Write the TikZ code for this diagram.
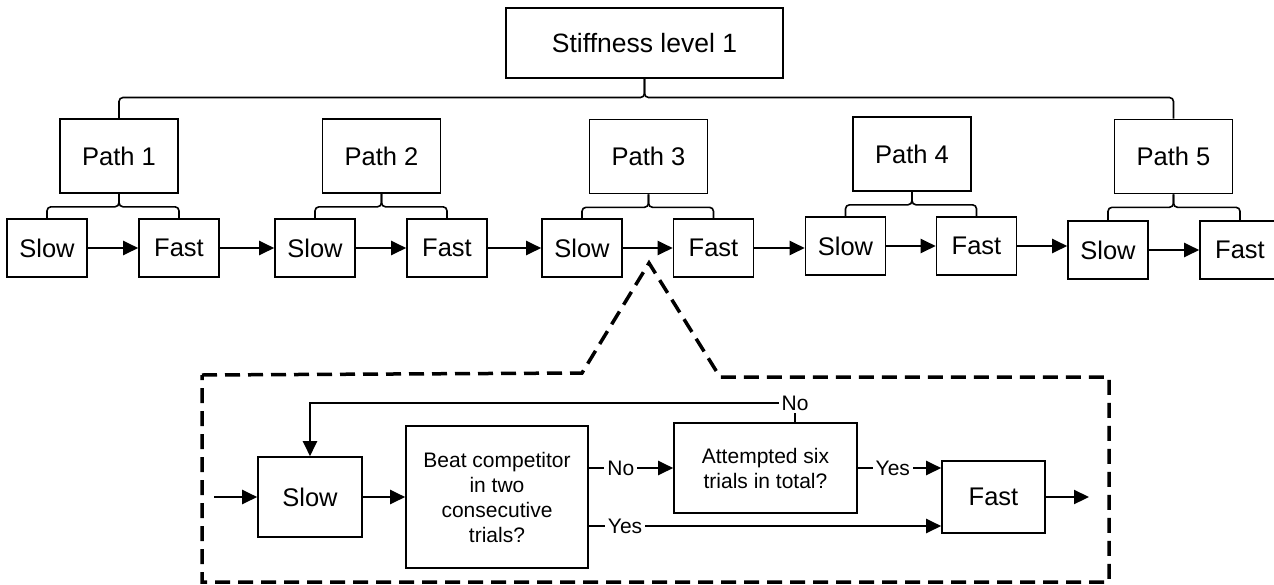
\documentclass[tikz,border=0pt]{standalone}
\usepackage{fontspec}
\setmainfont{Liberation Sans}
\usetikzlibrary{arrows.meta}
\begin{document}
\begin{tikzpicture}[x=1pt,y=-1pt,
  box/.style={draw, line width=1.6pt, inner sep=0pt, align=center, font=\fontsize{25.5}{30}\selectfont},
  pbox/.style={box, minimum width=118pt, minimum height=74pt},
  rbox/.style={box, minimum width=80pt, minimum height=58pt},
  qbox/.style={box, font=\fontsize{21}{25}\selectfont},
  arr/.style={-{Triangle[length=15pt,width=14pt]}, line width=2.2pt},
  brace/.style={line width=1.6pt, rounded corners=4pt},
  lab/.style={fill=white, inner sep=3pt, font=\fontsize{21}{24}\selectfont},
  dashbox/.style={line width=3.5pt, dash pattern=on 15pt off 8pt, line join=miter}]
\useasboundingbox (0,0) rectangle (1274,584);
\clip (0,0) rectangle (1274,584);

% top level
\node[box, minimum width=277pt, minimum height=70pt, font=\fontsize{26.5}{30}\selectfont] (top) at (644.5,43) {Stiffness level 1};
\node[pbox] (p1) at (119,156) {Path 1};
\node[pbox] (p2) at (381.5,156) {Path 2};
\node[pbox] (p3) at (648.5,156.5) {Path 3};
\node[pbox] (p4) at (912,154) {Path 4};
\node[pbox] (p5) at (1173.5,156.5) {Path 5};

\node[rbox] (s1) at (47,248) {Slow};
\node[rbox] (f1) at (179,248) {Fast};
\node[rbox] (s2) at (315,248) {Slow};
\node[rbox] (f2) at (447,248) {Fast};
\node[rbox] (s3) at (582,248) {Slow};
\node[rbox] (f3) at (713.5,248) {Fast};
\node[rbox] (s4) at (845.5,246) {Slow};
\node[rbox] (f4) at (976.5,246) {Fast};
\node[rbox] (s5) at (1108,250) {Slow};
\node[rbox] (f5) at (1240,250) {Fast};

% top brace
\coordinate (tb) at (644.5,97.5);
\draw[brace] (p1.north) |- (tb) -- (top.south);
\draw[brace] (p5.north) |- (tb) -- (top.south);

% sub braces
\foreach \p/\s/\f in {p1/s1/f1, p2/s2/f2, p3/s3/f3, p4/s4/f4, p5/s5/f5}{
  \draw[brace] (\s.north) |- ([yshift=-13pt]\p.south) -- (\p.south);
  \draw[brace] (\f.north) |- ([yshift=-13pt]\p.south) -- (\p.south);
}

% row arrows
\draw[arr] (s1.east) -- (s1.east -| f1.west);
\draw[arr] (f1.east) -- (f1.east -| s2.west);
\draw[arr] (s2.east) -- (s2.east -| f2.west);
\draw[arr] (f2.east) -- (f2.east -| s3.west);
\draw[arr] (s3.east) -- (s3.east -| f3.west);
\draw[arr] (f3.east) -- (f3.east -| s4.west);
\draw[arr] (s4.east) -- (s4.east -| f4.west);
\draw[arr] (f4.east) -- (f4.east -| s5.west);
\draw[arr] (s5.east) -- (s5.east -| f5.west);

% dashed zoom outline
\draw[dashbox] (202,375) -- (582,373) -- (649,263) -- (720,377) -- (1109,377) -- (1109,582) -- (202,582) -- cycle;

% inner flow
\node[box, minimum width=104pt, minimum height=80pt] (is) at (310,497) {Slow};
\node[qbox, minimum width=182pt, minimum height=142pt] (beat) at (497,497) {Beat competitor\\in two\\consecutive\\trials?};
\node[qbox, minimum width=183pt, minimum height=90pt] (att) at (765.5,468) {Attempted six\\trials in total?};
\node[box, minimum width=103pt, minimum height=72pt] (ifast) at (993.5,497) {Fast};

\coordinate (in) at (214,497);
\coordinate (out) at (1089,497);
\coordinate (ya) at (588,526);
\coordinate (nc) at (795,403);

\draw[arr] (in) -- (is);
\draw[arr] (is) -- (beat);
\draw[arr] (ifast) -- (out);
\draw[arr] (beat.east |- att.west) -- node[lab, pos=0.38] {No} (att.west);
\draw[arr] (ya) -- node[lab, pos=0.105] {Yes} (ya -| ifast.west);
\draw[arr] (att.east) -- node[lab, pos=0.42] {Yes} (att.east -| ifast.west);
\draw[arr] (nc |- att.north) -- (nc) -| (is.north);
\node[lab] (nolab) at (nc) {No};
\end{tikzpicture}
\end{document}
